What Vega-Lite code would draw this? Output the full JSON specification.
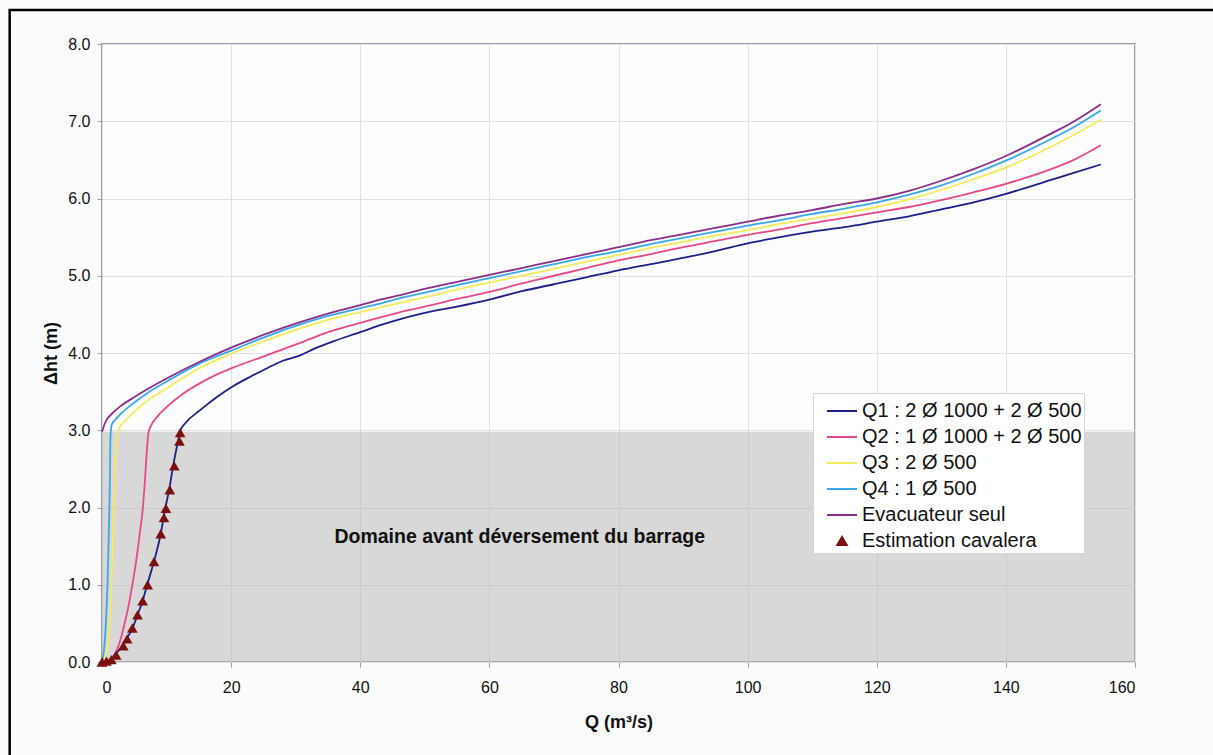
{
  "$schema": "https://vega.github.io/schema/vega-lite/v6.json",
  "width": 1033,
  "height": 618,
  "autosize": {"type": "none"},
  "padding": {"left": 102, "top": 44, "right": 78, "bottom": 93},
  "background": "#fbfbfb",
  "config": {
    "view": {"fill": "#fdfdfd", "stroke": "#9c9cab", "strokeWidth": 2},
    "font": "Liberation Sans",
    "axis": {
      "domain": false,
      "grid": true,
      "gridColor": "#e0e0e0",
      "gridWidth": 1,
      "tickColor": "#9c9cab",
      "tickSize": 5,
      "labelFont": "Liberation Sans",
      "labelFontSize": 16,
      "labelColor": "#111111",
      "titleFont": "Liberation Sans",
      "titleFontSize": 18,
      "titleFontWeight": "bold",
      "titleColor": "#111111"
    }
  },
  "datasets": {
    "frame": [{"x": -14.3, "x2": 400, "y": 8.44, "y2": -10}],
    "domaine": [{"x": 0, "x2": 160, "y": 0, "y2": 2.98, "label": "Domaine avant déversement du barrage", "lx": 64.7, "ly": 1.62}],
    "curves": [
      {"serie": "Q1 : 2 Ø 1000 + 2 Ø 500", "Q": 0, "h": 0},
      {"serie": "Q1 : 2 Ø 1000 + 2 Ø 500", "Q": 1, "h": 0.01},
      {"serie": "Q1 : 2 Ø 1000 + 2 Ø 500", "Q": 2, "h": 0.1},
      {"serie": "Q1 : 2 Ø 1000 + 2 Ø 500", "Q": 3.1, "h": 0.2},
      {"serie": "Q1 : 2 Ø 1000 + 2 Ø 500", "Q": 3.7, "h": 0.29},
      {"serie": "Q1 : 2 Ø 1000 + 2 Ø 500", "Q": 4.7, "h": 0.43},
      {"serie": "Q1 : 2 Ø 1000 + 2 Ø 500", "Q": 5.5, "h": 0.61},
      {"serie": "Q1 : 2 Ø 1000 + 2 Ø 500", "Q": 6.25, "h": 0.78},
      {"serie": "Q1 : 2 Ø 1000 + 2 Ø 500", "Q": 7, "h": 1.0},
      {"serie": "Q1 : 2 Ø 1000 + 2 Ø 500", "Q": 8.05, "h": 1.3},
      {"serie": "Q1 : 2 Ø 1000 + 2 Ø 500", "Q": 9.1, "h": 1.66},
      {"serie": "Q1 : 2 Ø 1000 + 2 Ø 500", "Q": 9.8, "h": 1.99},
      {"serie": "Q1 : 2 Ø 1000 + 2 Ø 500", "Q": 10.4, "h": 2.23},
      {"serie": "Q1 : 2 Ø 1000 + 2 Ø 500", "Q": 11, "h": 2.53},
      {"serie": "Q1 : 2 Ø 1000 + 2 Ø 500", "Q": 11.8, "h": 2.87},
      {"serie": "Q1 : 2 Ø 1000 + 2 Ø 500", "Q": 12.1, "h": 2.99},
      {"serie": "Q1 : 2 Ø 1000 + 2 Ø 500", "Q": 13, "h": 3.1},
      {"serie": "Q1 : 2 Ø 1000 + 2 Ø 500", "Q": 15.2, "h": 3.26},
      {"serie": "Q1 : 2 Ø 1000 + 2 Ø 500", "Q": 17.8, "h": 3.43},
      {"serie": "Q1 : 2 Ø 1000 + 2 Ø 500", "Q": 20.1, "h": 3.56},
      {"serie": "Q1 : 2 Ø 1000 + 2 Ø 500", "Q": 22.9, "h": 3.69},
      {"serie": "Q1 : 2 Ø 1000 + 2 Ø 500", "Q": 25.5, "h": 3.8},
      {"serie": "Q1 : 2 Ø 1000 + 2 Ø 500", "Q": 28, "h": 3.9},
      {"serie": "Q1 : 2 Ø 1000 + 2 Ø 500", "Q": 30.7, "h": 3.97},
      {"serie": "Q1 : 2 Ø 1000 + 2 Ø 500", "Q": 33, "h": 4.06},
      {"serie": "Q1 : 2 Ø 1000 + 2 Ø 500", "Q": 35.8, "h": 4.15},
      {"serie": "Q1 : 2 Ø 1000 + 2 Ø 500", "Q": 40, "h": 4.27},
      {"serie": "Q1 : 2 Ø 1000 + 2 Ø 500", "Q": 43.1, "h": 4.36},
      {"serie": "Q1 : 2 Ø 1000 + 2 Ø 500", "Q": 46.2, "h": 4.44},
      {"serie": "Q1 : 2 Ø 1000 + 2 Ø 500", "Q": 50, "h": 4.52},
      {"serie": "Q1 : 2 Ø 1000 + 2 Ø 500", "Q": 55, "h": 4.6},
      {"serie": "Q1 : 2 Ø 1000 + 2 Ø 500", "Q": 60, "h": 4.69},
      {"serie": "Q1 : 2 Ø 1000 + 2 Ø 500", "Q": 65, "h": 4.8},
      {"serie": "Q1 : 2 Ø 1000 + 2 Ø 500", "Q": 70, "h": 4.89},
      {"serie": "Q1 : 2 Ø 1000 + 2 Ø 500", "Q": 75, "h": 4.98},
      {"serie": "Q1 : 2 Ø 1000 + 2 Ø 500", "Q": 80, "h": 5.07},
      {"serie": "Q1 : 2 Ø 1000 + 2 Ø 500", "Q": 85, "h": 5.15},
      {"serie": "Q1 : 2 Ø 1000 + 2 Ø 500", "Q": 90, "h": 5.23},
      {"serie": "Q1 : 2 Ø 1000 + 2 Ø 500", "Q": 95, "h": 5.32},
      {"serie": "Q1 : 2 Ø 1000 + 2 Ø 500", "Q": 100, "h": 5.42},
      {"serie": "Q1 : 2 Ø 1000 + 2 Ø 500", "Q": 105, "h": 5.5},
      {"serie": "Q1 : 2 Ø 1000 + 2 Ø 500", "Q": 110, "h": 5.57},
      {"serie": "Q1 : 2 Ø 1000 + 2 Ø 500", "Q": 115, "h": 5.63},
      {"serie": "Q1 : 2 Ø 1000 + 2 Ø 500", "Q": 120, "h": 5.7},
      {"serie": "Q1 : 2 Ø 1000 + 2 Ø 500", "Q": 125, "h": 5.77},
      {"serie": "Q1 : 2 Ø 1000 + 2 Ø 500", "Q": 130, "h": 5.86},
      {"serie": "Q1 : 2 Ø 1000 + 2 Ø 500", "Q": 135, "h": 5.95},
      {"serie": "Q1 : 2 Ø 1000 + 2 Ø 500", "Q": 140, "h": 6.06},
      {"serie": "Q1 : 2 Ø 1000 + 2 Ø 500", "Q": 147, "h": 6.24},
      {"serie": "Q1 : 2 Ø 1000 + 2 Ø 500", "Q": 150, "h": 6.32},
      {"serie": "Q1 : 2 Ø 1000 + 2 Ø 500", "Q": 154.7, "h": 6.44},

      {"serie": "Q2 : 1 Ø 1000 + 2 Ø 500", "Q": 0, "h": 0},
      {"serie": "Q2 : 1 Ø 1000 + 2 Ø 500", "Q": 0.7, "h": 0.01},
      {"serie": "Q2 : 1 Ø 1000 + 2 Ø 500", "Q": 2.1, "h": 0.12},
      {"serie": "Q2 : 1 Ø 1000 + 2 Ø 500", "Q": 2.87, "h": 0.29},
      {"serie": "Q2 : 1 Ø 1000 + 2 Ø 500", "Q": 3.5, "h": 0.5},
      {"serie": "Q2 : 1 Ø 1000 + 2 Ø 500", "Q": 4.1, "h": 0.72},
      {"serie": "Q2 : 1 Ø 1000 + 2 Ø 500", "Q": 4.8, "h": 1.05},
      {"serie": "Q2 : 1 Ø 1000 + 2 Ø 500", "Q": 5.4, "h": 1.37},
      {"serie": "Q2 : 1 Ø 1000 + 2 Ø 500", "Q": 5.9, "h": 1.7},
      {"serie": "Q2 : 1 Ø 1000 + 2 Ø 500", "Q": 6.3, "h": 1.97},
      {"serie": "Q2 : 1 Ø 1000 + 2 Ø 500", "Q": 6.65, "h": 2.35},
      {"serie": "Q2 : 1 Ø 1000 + 2 Ø 500", "Q": 6.95, "h": 2.74},
      {"serie": "Q2 : 1 Ø 1000 + 2 Ø 500", "Q": 7.2, "h": 2.97},
      {"serie": "Q2 : 1 Ø 1000 + 2 Ø 500", "Q": 7.6, "h": 3.06},
      {"serie": "Q2 : 1 Ø 1000 + 2 Ø 500", "Q": 8.5, "h": 3.17},
      {"serie": "Q2 : 1 Ø 1000 + 2 Ø 500", "Q": 10, "h": 3.3},
      {"serie": "Q2 : 1 Ø 1000 + 2 Ø 500", "Q": 12.5, "h": 3.47},
      {"serie": "Q2 : 1 Ø 1000 + 2 Ø 500", "Q": 15.2, "h": 3.61},
      {"serie": "Q2 : 1 Ø 1000 + 2 Ø 500", "Q": 17.5, "h": 3.71},
      {"serie": "Q2 : 1 Ø 1000 + 2 Ø 500", "Q": 20, "h": 3.8},
      {"serie": "Q2 : 1 Ø 1000 + 2 Ø 500", "Q": 25.5, "h": 3.97},
      {"serie": "Q2 : 1 Ø 1000 + 2 Ø 500", "Q": 30.7, "h": 4.13},
      {"serie": "Q2 : 1 Ø 1000 + 2 Ø 500", "Q": 35, "h": 4.27},
      {"serie": "Q2 : 1 Ø 1000 + 2 Ø 500", "Q": 40, "h": 4.39},
      {"serie": "Q2 : 1 Ø 1000 + 2 Ø 500", "Q": 43.1, "h": 4.46},
      {"serie": "Q2 : 1 Ø 1000 + 2 Ø 500", "Q": 46.2, "h": 4.53},
      {"serie": "Q2 : 1 Ø 1000 + 2 Ø 500", "Q": 50, "h": 4.6},
      {"serie": "Q2 : 1 Ø 1000 + 2 Ø 500", "Q": 55, "h": 4.7},
      {"serie": "Q2 : 1 Ø 1000 + 2 Ø 500", "Q": 60, "h": 4.79},
      {"serie": "Q2 : 1 Ø 1000 + 2 Ø 500", "Q": 65, "h": 4.9},
      {"serie": "Q2 : 1 Ø 1000 + 2 Ø 500", "Q": 70, "h": 5.0},
      {"serie": "Q2 : 1 Ø 1000 + 2 Ø 500", "Q": 75, "h": 5.1},
      {"serie": "Q2 : 1 Ø 1000 + 2 Ø 500", "Q": 80, "h": 5.2},
      {"serie": "Q2 : 1 Ø 1000 + 2 Ø 500", "Q": 85, "h": 5.28},
      {"serie": "Q2 : 1 Ø 1000 + 2 Ø 500", "Q": 90, "h": 5.37},
      {"serie": "Q2 : 1 Ø 1000 + 2 Ø 500", "Q": 95, "h": 5.45},
      {"serie": "Q2 : 1 Ø 1000 + 2 Ø 500", "Q": 100, "h": 5.53},
      {"serie": "Q2 : 1 Ø 1000 + 2 Ø 500", "Q": 105, "h": 5.6},
      {"serie": "Q2 : 1 Ø 1000 + 2 Ø 500", "Q": 110, "h": 5.68},
      {"serie": "Q2 : 1 Ø 1000 + 2 Ø 500", "Q": 115, "h": 5.75},
      {"serie": "Q2 : 1 Ø 1000 + 2 Ø 500", "Q": 120, "h": 5.82},
      {"serie": "Q2 : 1 Ø 1000 + 2 Ø 500", "Q": 125, "h": 5.89},
      {"serie": "Q2 : 1 Ø 1000 + 2 Ø 500", "Q": 130, "h": 5.98},
      {"serie": "Q2 : 1 Ø 1000 + 2 Ø 500", "Q": 135, "h": 6.08},
      {"serie": "Q2 : 1 Ø 1000 + 2 Ø 500", "Q": 140, "h": 6.19},
      {"serie": "Q2 : 1 Ø 1000 + 2 Ø 500", "Q": 147, "h": 6.38},
      {"serie": "Q2 : 1 Ø 1000 + 2 Ø 500", "Q": 150, "h": 6.48},
      {"serie": "Q2 : 1 Ø 1000 + 2 Ø 500", "Q": 154.7, "h": 6.69},

      {"serie": "Q3 :  2 Ø 500", "Q": 0, "h": 0},
      {"serie": "Q3 :  2 Ø 500", "Q": 0.5, "h": 0.08},
      {"serie": "Q3 :  2 Ø 500", "Q": 1, "h": 0.3},
      {"serie": "Q3 :  2 Ø 500", "Q": 1.3, "h": 0.7},
      {"serie": "Q3 :  2 Ø 500", "Q": 1.6, "h": 1.3},
      {"serie": "Q3 :  2 Ø 500", "Q": 1.85, "h": 2.0},
      {"serie": "Q3 :  2 Ø 500", "Q": 2.05, "h": 2.6},
      {"serie": "Q3 :  2 Ø 500", "Q": 2.3, "h": 2.92},
      {"serie": "Q3 :  2 Ø 500", "Q": 2.8, "h": 3.05},
      {"serie": "Q3 :  2 Ø 500", "Q": 3.3, "h": 3.1},
      {"serie": "Q3 :  2 Ø 500", "Q": 4.85, "h": 3.23},
      {"serie": "Q3 :  2 Ø 500", "Q": 7, "h": 3.38},
      {"serie": "Q3 :  2 Ø 500", "Q": 10, "h": 3.54},
      {"serie": "Q3 :  2 Ø 500", "Q": 15, "h": 3.8},
      {"serie": "Q3 :  2 Ø 500", "Q": 20, "h": 3.99},
      {"serie": "Q3 :  2 Ø 500", "Q": 25, "h": 4.15},
      {"serie": "Q3 :  2 Ø 500", "Q": 30.7, "h": 4.32},
      {"serie": "Q3 :  2 Ø 500", "Q": 35, "h": 4.43},
      {"serie": "Q3 :  2 Ø 500", "Q": 40, "h": 4.53},
      {"serie": "Q3 :  2 Ø 500", "Q": 43.1, "h": 4.59},
      {"serie": "Q3 :  2 Ø 500", "Q": 46.2, "h": 4.65},
      {"serie": "Q3 :  2 Ø 500", "Q": 50, "h": 4.72},
      {"serie": "Q3 :  2 Ø 500", "Q": 55, "h": 4.82},
      {"serie": "Q3 :  2 Ø 500", "Q": 60, "h": 4.91},
      {"serie": "Q3 :  2 Ø 500", "Q": 65, "h": 5.0},
      {"serie": "Q3 :  2 Ø 500", "Q": 70, "h": 5.09},
      {"serie": "Q3 :  2 Ø 500", "Q": 75, "h": 5.18},
      {"serie": "Q3 :  2 Ø 500", "Q": 80, "h": 5.27},
      {"serie": "Q3 :  2 Ø 500", "Q": 85, "h": 5.36},
      {"serie": "Q3 :  2 Ø 500", "Q": 90, "h": 5.44},
      {"serie": "Q3 :  2 Ø 500", "Q": 95, "h": 5.52},
      {"serie": "Q3 :  2 Ø 500", "Q": 100, "h": 5.59},
      {"serie": "Q3 :  2 Ø 500", "Q": 105, "h": 5.67},
      {"serie": "Q3 :  2 Ø 500", "Q": 110, "h": 5.74},
      {"serie": "Q3 :  2 Ø 500", "Q": 115, "h": 5.81},
      {"serie": "Q3 :  2 Ø 500", "Q": 120, "h": 5.89},
      {"serie": "Q3 :  2 Ø 500", "Q": 125, "h": 5.99},
      {"serie": "Q3 :  2 Ø 500", "Q": 130, "h": 6.11},
      {"serie": "Q3 :  2 Ø 500", "Q": 135, "h": 6.25},
      {"serie": "Q3 :  2 Ø 500", "Q": 140, "h": 6.4},
      {"serie": "Q3 :  2 Ø 500", "Q": 147, "h": 6.67},
      {"serie": "Q3 :  2 Ø 500", "Q": 150, "h": 6.8},
      {"serie": "Q3 :  2 Ø 500", "Q": 154.7, "h": 7.02},

      {"serie": "Q4 : 1 Ø 500", "Q": 0, "h": 0},
      {"serie": "Q4 : 1 Ø 500", "Q": 0.3, "h": 0.15},
      {"serie": "Q4 : 1 Ø 500", "Q": 0.6, "h": 0.5},
      {"serie": "Q4 : 1 Ø 500", "Q": 0.85, "h": 1.0},
      {"serie": "Q4 : 1 Ø 500", "Q": 1.0, "h": 1.5},
      {"serie": "Q4 : 1 Ø 500", "Q": 1.15, "h": 2.0},
      {"serie": "Q4 : 1 Ø 500", "Q": 1.25, "h": 2.5},
      {"serie": "Q4 : 1 Ø 500", "Q": 1.3, "h": 2.9},
      {"serie": "Q4 : 1 Ø 500", "Q": 1.5, "h": 3.07},
      {"serie": "Q4 : 1 Ø 500", "Q": 2, "h": 3.13},
      {"serie": "Q4 : 1 Ø 500", "Q": 3, "h": 3.22},
      {"serie": "Q4 : 1 Ø 500", "Q": 4.85, "h": 3.35},
      {"serie": "Q4 : 1 Ø 500", "Q": 7, "h": 3.48},
      {"serie": "Q4 : 1 Ø 500", "Q": 10, "h": 3.63},
      {"serie": "Q4 : 1 Ø 500", "Q": 15, "h": 3.86},
      {"serie": "Q4 : 1 Ø 500", "Q": 20, "h": 4.03},
      {"serie": "Q4 : 1 Ø 500", "Q": 25, "h": 4.2},
      {"serie": "Q4 : 1 Ø 500", "Q": 30.7, "h": 4.37},
      {"serie": "Q4 : 1 Ø 500", "Q": 35, "h": 4.48},
      {"serie": "Q4 : 1 Ø 500", "Q": 40, "h": 4.58},
      {"serie": "Q4 : 1 Ø 500", "Q": 43.1, "h": 4.64},
      {"serie": "Q4 : 1 Ø 500", "Q": 46.2, "h": 4.71},
      {"serie": "Q4 : 1 Ø 500", "Q": 50, "h": 4.78},
      {"serie": "Q4 : 1 Ø 500", "Q": 55, "h": 4.88},
      {"serie": "Q4 : 1 Ø 500", "Q": 60, "h": 4.97},
      {"serie": "Q4 : 1 Ø 500", "Q": 65, "h": 5.06},
      {"serie": "Q4 : 1 Ø 500", "Q": 70, "h": 5.15},
      {"serie": "Q4 : 1 Ø 500", "Q": 75, "h": 5.24},
      {"serie": "Q4 : 1 Ø 500", "Q": 80, "h": 5.32},
      {"serie": "Q4 : 1 Ø 500", "Q": 85, "h": 5.41},
      {"serie": "Q4 : 1 Ø 500", "Q": 90, "h": 5.49},
      {"serie": "Q4 : 1 Ø 500", "Q": 95, "h": 5.57},
      {"serie": "Q4 : 1 Ø 500", "Q": 100, "h": 5.65},
      {"serie": "Q4 : 1 Ø 500", "Q": 105, "h": 5.72},
      {"serie": "Q4 : 1 Ø 500", "Q": 110, "h": 5.8},
      {"serie": "Q4 : 1 Ø 500", "Q": 115, "h": 5.87},
      {"serie": "Q4 : 1 Ø 500", "Q": 120, "h": 5.95},
      {"serie": "Q4 : 1 Ø 500", "Q": 125, "h": 6.05},
      {"serie": "Q4 : 1 Ø 500", "Q": 130, "h": 6.17},
      {"serie": "Q4 : 1 Ø 500", "Q": 135, "h": 6.32},
      {"serie": "Q4 : 1 Ø 500", "Q": 140, "h": 6.49},
      {"serie": "Q4 : 1 Ø 500", "Q": 147, "h": 6.77},
      {"serie": "Q4 : 1 Ø 500", "Q": 150, "h": 6.9},
      {"serie": "Q4 : 1 Ø 500", "Q": 154.7, "h": 7.14},

      {"serie": "Evacuateur seul", "Q": 0, "h": 2.98},
      {"serie": "Evacuateur seul", "Q": 0.5, "h": 3.1},
      {"serie": "Evacuateur seul", "Q": 1.75, "h": 3.23},
      {"serie": "Evacuateur seul", "Q": 3, "h": 3.32},
      {"serie": "Evacuateur seul", "Q": 4.85, "h": 3.42},
      {"serie": "Evacuateur seul", "Q": 7, "h": 3.53},
      {"serie": "Evacuateur seul", "Q": 10, "h": 3.67},
      {"serie": "Evacuateur seul", "Q": 15.2, "h": 3.89},
      {"serie": "Evacuateur seul", "Q": 20, "h": 4.07},
      {"serie": "Evacuateur seul", "Q": 25.5, "h": 4.25},
      {"serie": "Evacuateur seul", "Q": 30.7, "h": 4.4},
      {"serie": "Evacuateur seul", "Q": 35.8, "h": 4.53},
      {"serie": "Evacuateur seul", "Q": 40, "h": 4.62},
      {"serie": "Evacuateur seul", "Q": 43.1, "h": 4.69},
      {"serie": "Evacuateur seul", "Q": 46.2, "h": 4.75},
      {"serie": "Evacuateur seul", "Q": 50, "h": 4.83},
      {"serie": "Evacuateur seul", "Q": 55, "h": 4.92},
      {"serie": "Evacuateur seul", "Q": 60, "h": 5.01},
      {"serie": "Evacuateur seul", "Q": 65, "h": 5.1},
      {"serie": "Evacuateur seul", "Q": 70, "h": 5.19},
      {"serie": "Evacuateur seul", "Q": 75, "h": 5.28},
      {"serie": "Evacuateur seul", "Q": 80, "h": 5.37},
      {"serie": "Evacuateur seul", "Q": 85, "h": 5.46},
      {"serie": "Evacuateur seul", "Q": 90, "h": 5.54},
      {"serie": "Evacuateur seul", "Q": 95, "h": 5.62},
      {"serie": "Evacuateur seul", "Q": 100, "h": 5.7},
      {"serie": "Evacuateur seul", "Q": 105, "h": 5.78},
      {"serie": "Evacuateur seul", "Q": 110, "h": 5.85},
      {"serie": "Evacuateur seul", "Q": 115, "h": 5.93},
      {"serie": "Evacuateur seul", "Q": 120, "h": 6.0},
      {"serie": "Evacuateur seul", "Q": 125, "h": 6.1},
      {"serie": "Evacuateur seul", "Q": 130, "h": 6.23},
      {"serie": "Evacuateur seul", "Q": 135, "h": 6.38},
      {"serie": "Evacuateur seul", "Q": 140, "h": 6.55},
      {"serie": "Evacuateur seul", "Q": 147, "h": 6.84},
      {"serie": "Evacuateur seul", "Q": 150, "h": 6.97},
      {"serie": "Evacuateur seul", "Q": 154.7, "h": 7.22},

      {"serie": "Estimation cavalera", "Q": 12.1, "h": 2.97},
      {"serie": "Estimation cavalera", "Q": 12.0, "h": 2.86},
      {"serie": "Estimation cavalera", "Q": 11.2, "h": 2.54},
      {"serie": "Estimation cavalera", "Q": 10.5, "h": 2.23},
      {"serie": "Estimation cavalera", "Q": 9.9, "h": 1.99},
      {"serie": "Estimation cavalera", "Q": 9.6, "h": 1.87},
      {"serie": "Estimation cavalera", "Q": 9.1, "h": 1.66},
      {"serie": "Estimation cavalera", "Q": 8.05, "h": 1.3},
      {"serie": "Estimation cavalera", "Q": 7.07, "h": 1.0},
      {"serie": "Estimation cavalera", "Q": 6.3, "h": 0.79},
      {"serie": "Estimation cavalera", "Q": 5.5, "h": 0.61},
      {"serie": "Estimation cavalera", "Q": 4.7, "h": 0.44},
      {"serie": "Estimation cavalera", "Q": 3.9, "h": 0.3},
      {"serie": "Estimation cavalera", "Q": 3.3, "h": 0.21},
      {"serie": "Estimation cavalera", "Q": 2.2, "h": 0.09},
      {"serie": "Estimation cavalera", "Q": 1.45, "h": 0.03},
      {"serie": "Estimation cavalera", "Q": 0.7, "h": 0.01},
      {"serie": "Estimation cavalera", "Q": 0, "h": 0}
    ]
  },
  "layer": [
    {
      "data": {"name": "frame"},
      "mark": {"type": "rect", "clip": false, "fill": null, "fillOpacity": 0, "stroke": "#000000", "strokeWidth": 2.5},
      "encoding": {
        "x": {"field": "x", "type": "quantitative", "scale": {"domain": [0, 160]}},
        "x2": {"field": "x2"},
        "y": {"field": "y", "type": "quantitative", "scale": {"domain": [0, 8]}},
        "y2": {"field": "y2"}
      }
    },
    {
      "data": {"name": "domaine"},
      "mark": {"type": "rect", "fill": "#b4b4b4", "opacity": 0.5},
      "encoding": {
        "x": {"field": "x", "type": "quantitative"},
        "x2": {"field": "x2"},
        "y": {"field": "y", "type": "quantitative"},
        "y2": {"field": "y2"}
      }
    },
    {
      "data": {"name": "domaine"},
      "mark": {"type": "text", "fontWeight": "bold", "fontSize": 19.5, "font": "Liberation Sans", "color": "#111111", "align": "center", "baseline": "middle"},
      "encoding": {
        "x": {"field": "lx", "type": "quantitative"},
        "y": {"field": "ly", "type": "quantitative"},
        "text": {"field": "label"}
      }
    },
    {
      "data": {"name": "curves"},
      "transform": [{"filter": "datum.serie !== 'Estimation cavalera'"}],
      "mark": {"type": "line", "strokeWidth": 1.8, "interpolate": "monotone"},
      "encoding": {
        "x": {
          "field": "Q", "type": "quantitative",
          "scale": {"domain": [0, 160], "nice": false},
          "axis": {"title": "Q (m³/s)", "values": [0, 20, 40, 60, 80, 100, 120, 140, 160], "labelPadding": 12, "titlePadding": 18}
        },
        "y": {
          "field": "h", "type": "quantitative",
          "scale": {"domain": [0, 8], "nice": false},
          "axis": {"title": "Δht (m)", "values": [0, 1, 2, 3, 4, 5, 6, 7, 8], "format": ".1f", "labelPadding": 7, "titlePadding": 7}
        },
        "color": {
          "field": "serie", "type": "nominal",
          "scale": {
            "domain": ["Q1 : 2 Ø 1000 + 2 Ø 500", "Q2 : 1 Ø 1000 + 2 Ø 500", "Q3 :  2 Ø 500", "Q4 : 1 Ø 500", "Evacuateur seul", "Estimation cavalera"],
            "range": ["#1c1f8a", "#e8488a", "#f2ec5a", "#3aa8e8", "#8a2e8c", "#7a1010"]
          },
          "legend": {
            "title": null,
            "orient": "none",
            "legendX": 711,
            "legendY": 349,
            "fillColor": "#ffffff",
            "strokeColor": "#d4d4d4",
            "padding": 2,
            "rowPadding": 0,
            "symbolType": "stroke",
            "symbolSize": 900,
            "symbolOffset": 11,
            "symbolStrokeWidth": 2,
            "labelFont": "Liberation Sans",
            "labelFontSize": 20,
            "labelColor": "#111111",
            "labelOffset": 4,
            "labelLimit": 400,
            "encode": {
              "symbols": {
                "update": {
                  "shape": {"signal": "datum.value === 'Estimation cavalera' ? 'triangle-up' : 'stroke'"},
                  "size": {"signal": "datum.value === 'Estimation cavalera' ? 90 : 900"},
                  "fill": {"signal": "datum.value === 'Estimation cavalera' ? '#7a1010' : 'transparent'"},
                  "stroke": {"signal": "datum.value === 'Estimation cavalera' ? 'transparent' : scale('color', datum.value)"},
                  "strokeWidth": {"value": 2},
                  "opacity": {"value": 1}
                }
              }
            }
          }
        }
      }
    },
    {
      "data": {"name": "curves"},
      "transform": [{"filter": "datum.serie === 'Estimation cavalera'"}],
      "mark": {"type": "point", "shape": "triangle-up", "filled": true, "size": 115, "opacity": 1},
      "encoding": {
        "x": {"field": "Q", "type": "quantitative"},
        "y": {"field": "h", "type": "quantitative"},
        "color": {"field": "serie", "type": "nominal"}
      }
    }
  ]
}
